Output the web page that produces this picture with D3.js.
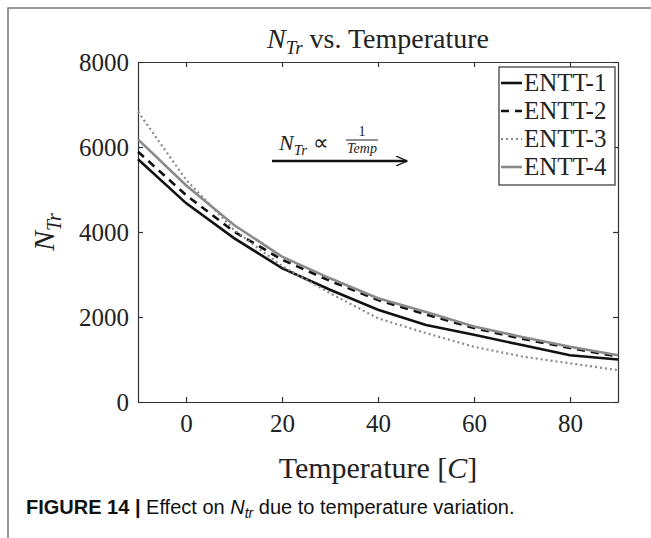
<!DOCTYPE html>
<html>
<head>
<meta charset="utf-8">
<script src="https://cdn.jsdelivr.net/npm/d3@7"></script>
<style>
  body { margin: 0; background: #fff; }
  svg { display: block; }
</style>
</head>
<body>
<svg id="chart" width="651" height="538"></svg>
<script>
// data
const temps = [-10, 0, 10, 20, 30, 40, 50, 60, 70, 80, 90];
const entt1 = [5710, 4680, 3855, 3150, 2640, 2170, 1810, 1580, 1340, 1100, 1000];
const entt2 = [5890, 4870, 4010, 3350, 2850, 2400, 2060, 1740, 1490, 1270, 1070];
const entt3 = [6830, 5230, 4050, 3200, 2560, 1970, 1620, 1300, 1070, 910, 750];
const entt4 = [6180, 5100, 4165, 3420, 2910, 2440, 2120, 1775, 1530, 1300, 1100];
const seriesNames = ["ENTT-1", "ENTT-2", "ENTT-3", "ENTT-4"];
const xTicks = [0, 20, 40, 60, 80];
const yTicks = [0, 2000, 4000, 6000, 8000];

const SERIF = "'Liberation Serif', 'Times New Roman', serif";

const styles = [
  {color: "#111", width: 2.6, dash: null},
  {color: "#111", width: 2.6, dash: "8,6"},
  {color: "#8a8a8a", width: 2.2, dash: "2,3"},
  {color: "#8a8a8a", width: 2.6, dash: null}
];

const svg = d3.select("#chart");
const margin = {left: 138, top: 62, right: 33, bottom: 136};
const width = 651 - margin.left - margin.right;
const height = 538 - margin.top - margin.bottom;

// figure frame (left + top border)
svg.append("path")
  .attr("d", "M8,538 L8,8 L651,8")
  .attr("fill", "none").attr("stroke", "#777").attr("stroke-width", 1.5);

const g = svg.append("g").attr("transform", `translate(${margin.left},${margin.top})`);

const x = d3.scaleLinear().domain([-10, 90]).range([0, width]);
const y = d3.scaleLinear().domain([0, 8000]).range([height, 0]);

function serifText(sel, size) {
  sel.selectAll("text")
    .style("font-family", SERIF)
    .style("font-size", size)
    .attr("fill", "#222");
}

// axes, matlab style box with inward ticks
g.append("g").attr("transform", `translate(0,${height})`)
  .call(d3.axisBottom(x).tickValues(xTicks).tickFormat(d3.format("d")).tickSizeInner(-5).tickSizeOuter(0).tickPadding(12))
  .call(a => serifText(a, "25px"));
g.append("g")
  .call(d3.axisTop(x).tickValues(xTicks).tickSizeInner(-5).tickSizeOuter(0).tickFormat(""));
g.append("g")
  .call(d3.axisLeft(y).tickValues(yTicks).tickFormat(d3.format("d")).tickSizeInner(-5).tickSizeOuter(0).tickPadding(9))
  .call(a => serifText(a, "25px"));
g.append("g").attr("transform", `translate(${width},0)`)
  .call(d3.axisRight(y).tickValues(yTicks).tickSizeInner(-5).tickSizeOuter(0).tickFormat(""));
g.selectAll(".domain, .tick line").attr("stroke", "#333").attr("stroke-width", 1.2);

// lines
const allSeries = [entt1, entt2, entt3, entt4];
const line = d3.line().x((d, i) => x(temps[i])).y(d => y(d));
g.selectAll(".series")
  .data(allSeries)
  .enter()
  .append("path")
    .attr("class", "series")
    .attr("d", d => line(d))
    .attr("fill", "none")
    .attr("stroke", (d, i) => styles[i].color)
    .attr("stroke-width", (d, i) => styles[i].width)
    .attr("stroke-dasharray", (d, i) => styles[i].dash);

// annotation arrow
svg.append("defs").append("marker")
  .attr("id", "arr").attr("viewBox", "0 0 12 10").attr("refX", 11).attr("refY", 5)
  .attr("markerWidth", 12).attr("markerHeight", 10).attr("markerUnits", "userSpaceOnUse")
  .attr("orient", "auto")
  .append("path").attr("d", "M0,0 L11,5 L0,10").attr("fill", "none").attr("stroke", "#111").attr("stroke-width", 1.3);
svg.append("line")
  .attr("x1", 272).attr("y1", 161).attr("x2", 407).attr("y2", 161)
  .attr("stroke", "#111").attr("stroke-width", 2.4).attr("marker-end", "url(#arr)");
const ann = svg.append("text").attr("x", 279).attr("y", 150)
  .style("font-family", SERIF).style("font-size", "22px").attr("fill", "#222");
ann.append("tspan").attr("font-style", "italic").text("N");
ann.append("tspan").attr("font-style", "italic").attr("dy", 5).style("font-size", "15px").text("Tr");
ann.append("tspan").attr("dy", -5).text(" \u221D");
svg.append("text").attr("x", 362).attr("y", 136)
  .style("font-family", SERIF).attr("fill", "#222")
  .attr("text-anchor", "middle").style("font-size", "14px").text("1");
svg.append("line").attr("x1", 346).attr("x2", 378).attr("y1", 140).attr("y2", 140)
  .attr("stroke", "#222").attr("stroke-width", 1);
svg.append("text").attr("x", 362).attr("y", 153)
  .style("font-family", SERIF).attr("fill", "#222")
  .attr("text-anchor", "middle").attr("font-style", "italic").style("font-size", "14px").text("Temp");

// legend
const lg = svg.append("g").attr("transform", "translate(499,67)");
lg.append("rect").attr("width", 116).attr("height", 118)
  .attr("fill", "#fff").attr("stroke", "#333").attr("stroke-width", 1.2);
seriesNames.forEach((name, i) => {
  const yy = 16 + i * 28;
  lg.append("line").attr("x1", 2).attr("x2", 23).attr("y1", yy).attr("y2", yy)
    .attr("stroke", styles[i].color).attr("stroke-width", styles[i].width)
    .attr("stroke-dasharray", styles[i].dash);
  lg.append("text").attr("x", 25).attr("y", yy + 8)
    .style("font-family", SERIF).attr("fill", "#222")
    .style("font-size", "25px").text(name);
});

// title
const title = svg.append("text")
  .style("font-family", SERIF).attr("fill", "#222")
  .attr("x", margin.left + width / 2).attr("y", 48).attr("text-anchor", "middle").style("font-size", "28px");
title.append("tspan").attr("font-style", "italic").text("N");
title.append("tspan").attr("font-style", "italic").attr("dy", 6).style("font-size", "19px").text("Tr");
title.append("tspan").attr("dy", -6).text(" vs. Temperature");

// axis titles
const xl = svg.append("text")
  .style("font-family", SERIF).attr("fill", "#222")
  .attr("x", margin.left + width / 2).attr("y", 478).attr("text-anchor", "middle").style("font-size", "30px");
xl.append("tspan").text("Temperature [");
xl.append("tspan").attr("font-style", "italic").text("C");
xl.append("tspan").text("]");

const yl = svg.append("text")
  .style("font-family", SERIF).attr("fill", "#222")
  .attr("transform", `translate(54,${margin.top + height / 2}) rotate(-90)`)
  .attr("text-anchor", "middle").style("font-size", "30px");
yl.append("tspan").attr("font-style", "italic").text("N");
yl.append("tspan").attr("font-style", "italic").attr("dy", 7).style("font-size", "20px").text("Tr");

// caption
const cap = svg.append("text").attr("x", 26).attr("y", 514)
  .style("font-family", "'Liberation Sans Narrow', 'Liberation Sans', Arial, sans-serif")
  .style("font-size", "20px").attr("fill", "#111");
cap.append("tspan").attr("font-weight", "bold").text("FIGURE 14 | ");
cap.append("tspan").text("Effect on ");
cap.append("tspan").attr("font-style", "italic").text("N");
cap.append("tspan").attr("font-style", "italic").attr("dy", 4).style("font-size", "14px").text("tr");
cap.append("tspan").attr("dy", -4).text(" due to temperature variation.");
</script>
</body>
</html>
